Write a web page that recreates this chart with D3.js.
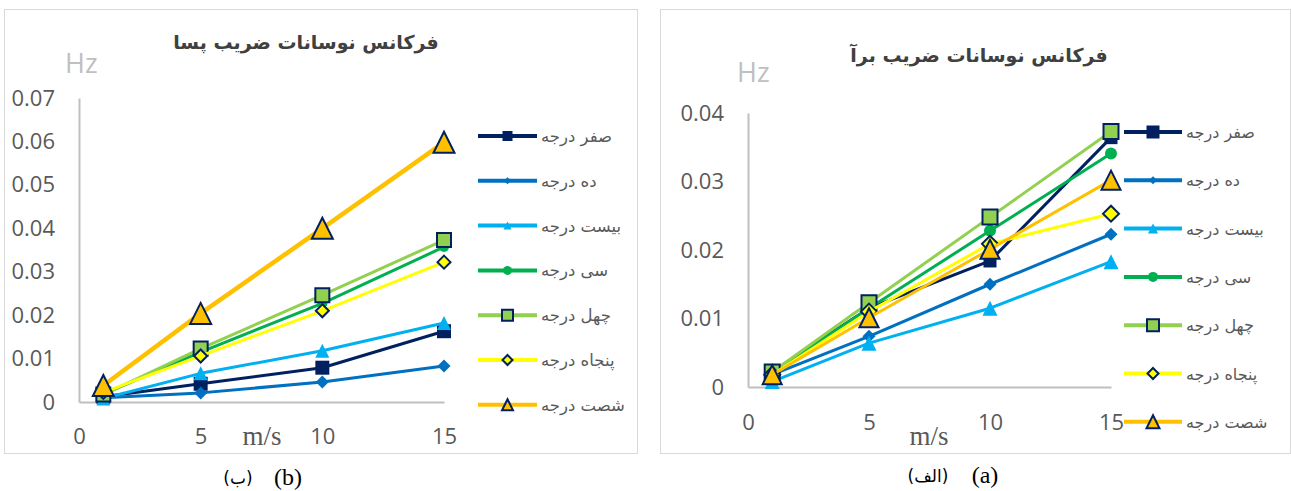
<!DOCTYPE html>
<html>
<head>
<meta charset="utf-8">
<script src="https://cdn.jsdelivr.net/npm/d3@7"></script>
<style>
  html, body { margin: 0; padding: 0; background: #ffffff; }
  svg { display: block; }
</style>
</head>
<body>
<svg id="chart" width="1291" height="491"></svg>
<script>
// ---------------- DATA ----------------
const seriesNames = ["صفر درجه", "ده درجه", "بیست درجه", "سی درجه", "چهل درجه", "پنجاه درجه", "شصت درجه"];
const seriesColors = ["#002060", "#0070C0", "#00B0F0", "#00B050", "#92D050", "#FFFF00", "#FFC000"];
const markerShapes = ["square", "diamond", "triangle", "circle", "square", "diamond", "triangle"];
const markerBorders = [null, null, null, null, "#002060", "#002060", "#002060"];
const speeds = [1, 5, 10, 15];
const xTickValues = [0, 5, 10, 15];

// (b) drag coefficient oscillation frequency
const drag0  = [0.0012, 0.0042, 0.0079, 0.0163];
const drag10 = [0.0010, 0.0021, 0.0046, 0.0083];
const drag20 = [0.0008, 0.0066, 0.0118, 0.0182];
const drag30 = [0.0018, 0.0115, 0.0227, 0.0357];
const drag40 = [0.0017, 0.0123, 0.0246, 0.0373];
const drag50 = [0.0022, 0.0106, 0.0210, 0.0322];
const drag60 = [0.0038, 0.0204, 0.0400, 0.0598];
const dragYTicks = [0, 0.01, 0.02, 0.03, 0.04, 0.05, 0.06, 0.07];

// (a) lift coefficient oscillation frequency
const lift0  = [0.0022, 0.0115, 0.0184, 0.0364];
const lift10 = [0.0018, 0.0074, 0.0150, 0.0223];
const lift20 = [0.0008, 0.0064, 0.0115, 0.0183];
const lift30 = [0.0020, 0.0115, 0.0228, 0.0341];
const lift40 = [0.0022, 0.0123, 0.0248, 0.0373];
const lift50 = [0.0018, 0.0110, 0.0209, 0.0253];
const lift60 = [0.0018, 0.0101, 0.0201, 0.0302];
const liftYTicks = [0, 0.01, 0.02, 0.03, 0.04];

const dragTitle = "فرکانس نوسانات ضریب پسا";
const liftTitle = "فرکانس نوسانات ضریب برآ";
const yUnit = "Hz";
const xUnit = "m/s";

// ---------------- DRAWING ----------------
const svg = d3.select("#chart");
const TICK_FONT = "'Open Sans', 'Noto Sans', sans-serif";
const FA_FONT = "'DejaVu Sans', 'Noto Sans', sans-serif";

function markerPath(shape, s) {
  const h = s / 2;
  if (shape === "square") return `M${-h},${-h}h${s}v${s}h${-s}Z`;
  if (shape === "diamond") return `M0,${-h}L${h},0L0,${h}L${-h},0Z`;
  if (shape === "triangle") return `M0,${-h}L${h},${h}L${-h},${h}Z`;
  return d3.symbol(d3.symbolCircle, Math.PI * h * h)();
}

function drawPanel(cfg) {
  const g = svg.append("g");
  // panel border
  g.append("rect")
    .attr("x", cfg.panel[0] + 0.5).attr("y", cfg.panel[1] + 0.5)
    .attr("width", cfg.panel[2] - cfg.panel[0]).attr("height", cfg.panel[3] - cfg.panel[1])
    .attr("fill", "#fff").attr("stroke", "#d9d9d9").attr("stroke-width", 1);

  const x = d3.scaleLinear().domain([0, 15]).range(cfg.xRange);
  const y = d3.scaleLinear().domain([0, d3.max(cfg.yTicks)]).range(cfg.yRange);

  // axes
  const yAxis = d3.axisLeft(y).tickValues(cfg.yTicks)
    .tickFormat(d => d === 0 ? "0" : d3.format(".2f")(d))
    .tickSize(0).tickPadding(cfg.yPad);
  const xAxis = d3.axisBottom(x).tickValues(xTickValues)
    .tickFormat(d3.format("d")).tickSize(0).tickPadding(cfg.xPad);

  const ya = g.append("g").attr("transform", `translate(${cfg.xRange[0]},0)`).call(yAxis);
  const xa = g.append("g").attr("transform", `translate(0,${cfg.yRange[0]})`).call(xAxis);
  [ya, xa].forEach(a => {
    a.select(".domain").attr("stroke", "#bfbfbf").attr("stroke-width", 2);
    a.selectAll("text").attr("fill", "#595959").attr("font-family", TICK_FONT).attr("font-size", 22);
  });

  // units
  g.append("text").attr("x", cfg.hzPos[0]).attr("y", cfg.hzPos[1])
    .attr("font-family", TICK_FONT).attr("font-size", 27).attr("fill", "#c0c0c0").text(yUnit);
  g.append("text").attr("x", cfg.msPos[0]).attr("y", cfg.msPos[1]).attr("text-anchor", "middle")
    .attr("font-family", "'Liberation Serif', 'DejaVu Serif', serif").attr("font-size", 27)
    .attr("fill", "#595959").text(xUnit);

  // title
  g.append("text").attr("x", cfg.titlePos[0]).attr("y", cfg.titlePos[1]).attr("text-anchor", "middle")
    .attr("font-family", FA_FONT).attr("font-weight", "bold").attr("font-size", 19)
    .attr("fill", "#404040").text(cfg.title);

  // series
  const line = d3.line().x((d, i) => x(speeds[i])).y(d => y(d));
  cfg.values.forEach((vals, si) => {
    const sg = g.append("g");
    sg.append("path").attr("d", line(vals)).attr("fill", "none")
      .attr("stroke", seriesColors[si]).attr("stroke-width", cfg.lineW[si])
      .attr("stroke-linejoin", "round").attr("stroke-linecap", "round");
    sg.selectAll("path.m").data(vals).join("path").attr("class", "m")
      .attr("d", markerPath(markerShapes[si], cfg.markerSize[si]))
      .attr("transform", (d, i) => `translate(${x(speeds[i])},${y(d)})`)
      .attr("fill", seriesColors[si])
      .attr("stroke", markerBorders[si] || "none")
      .attr("stroke-width", markerBorders[si] ? 2 : 0);
  });

  // legend
  const lg = g.append("g");
  seriesNames.forEach((name, si) => {
    const ly = cfg.legendY0 + si * cfg.legendDy;
    lg.append("line").attr("x1", cfg.legendX[0]).attr("x2", cfg.legendX[1])
      .attr("y1", ly).attr("y2", ly).attr("stroke", seriesColors[si]).attr("stroke-width", 4);
    lg.append("path").attr("d", markerPath(markerShapes[si], cfg.legendMarker[si]))
      .attr("transform", `translate(${(cfg.legendX[0] + cfg.legendX[1]) / 2},${ly})`)
      .attr("fill", seriesColors[si])
      .attr("stroke", markerBorders[si] || "none")
      .attr("stroke-width", markerBorders[si] ? 2 : 0);
    lg.append("text").attr("x", cfg.legendX[1] + 4).attr("y", ly + 6)
      .attr("font-family", FA_FONT).attr("font-size", cfg.legendFont).attr("fill", "#595959")
      .text(name);
  });

  // caption
  g.append("text").attr("x", cfg.capPos[0]).attr("y", cfg.capPos[1]).attr("text-anchor", "middle")
    .attr("font-family", "'Liberation Serif', serif").attr("font-size", 24).attr("fill", "#000")
    .text(cfg.capLatin);
  g.append("text").attr("x", cfg.capPos[0] - cfg.capGap).attr("y", cfg.capPos[1] - 1).attr("text-anchor", "middle")
    .attr("font-family", FA_FONT).attr("font-size", 17).attr("fill", "#000")
    .text(cfg.capFa);
}

drawPanel({
  panel: [4, 9, 637, 453],
  xRange: [79, 444], yRange: [402, 98],
  yTicks: dragYTicks, yPad: 24, xPad: 26,
  hzPos: [65, 73], msPos: [262, 445],
  title: dragTitle, titlePos: [306, 49],
  values: [drag0, drag10, drag20, drag30, drag40, drag50, drag60],
  lineW: [3, 3, 3, 3, 3, 3, 4.5],
  markerSize: [14, 13, 14, 10, 14, 13, 21],
  legendX: [478, 537], legendY0: 136, legendDy: 44.8, legendFont: 16.5,
  legendMarker: [10, 7, 8, 9, 11, 10, 11],
  capPos: [288, 485], capGap: 50, capLatin: "(b)", capFa: "(ب)"
});

drawPanel({
  panel: [660, 9, 1290, 453],
  xRange: [748, 1111], yRange: [387, 113],
  yTicks: liftYTicks, yPad: 24, xPad: 27,
  hzPos: [737, 82], msPos: [929, 445],
  title: liftTitle, titlePos: [979, 62],
  values: [lift0, lift10, lift20, lift30, lift40, lift50, lift60],
  lineW: [3, 3, 3, 3, 3, 3, 3],
  markerSize: [13, 13, 15, 12, 15, 16, 19],
  legendX: [1124, 1182], legendY0: 132, legendDy: 48.3, legendFont: 16,
  legendMarker: [13, 8, 10, 10, 12, 11, 13],
  capPos: [985, 483], capGap: 57, capLatin: "(a)", capFa: "(الف)"
});
</script>
</body>
</html>
